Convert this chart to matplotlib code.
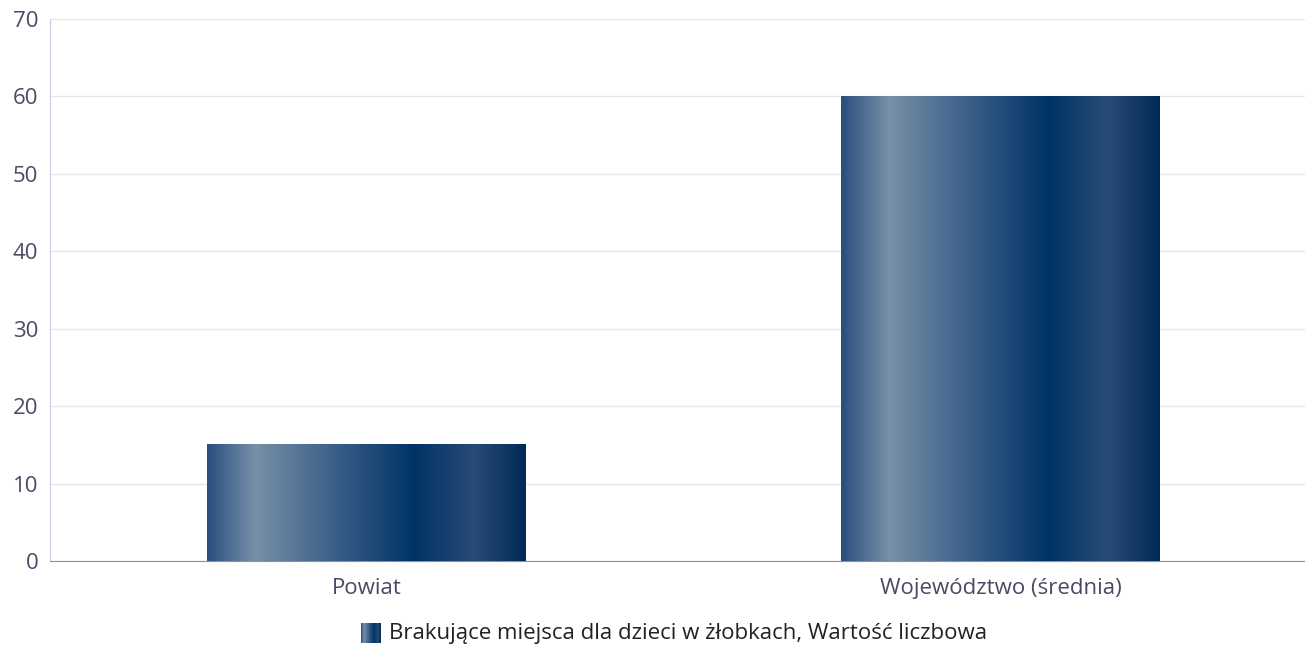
#!/usr/bin/env python3

import numpy as np
import matplotlib
matplotlib.use('Agg')
from matplotlib import pyplot as plt
from matplotlib.colors import LinearSegmentedColormap


categories = ['Powiat', 'Województwo (średnia)']
values = [15, 60]
series_name = 'Brakujące miejsca dla dzieci w żłobkach, Wartość liczbowa'
yticks = [0, 10, 20, 30, 40, 50, 60, 70]

plt.rcParams['font.family'] = ['Open Sans', 'DejaVu Sans']

# horizontal gradient used for the bars and the legend swatch
grad = LinearSegmentedColormap.from_list('bar', [
    (0.0, '#2a4f7e'),
    (0.15, '#7890a8'),
    (0.40, '#3a5f88'),
    (0.65, '#003366'),
    (0.84, '#284b74'),
    (1.0, '#002b57'),
])
ramp = np.linspace(0, 1, 256).reshape(1, -1)

W, H = 1305, 647
fs = 16
fig = plt.figure(figsize=(W / 100, H / 100), dpi=100)
ax = fig.add_axes([49.5 / W, 1 - 561 / H, (W - 49.5) / W, 542 / H])

x = np.arange(len(categories))
bars = ax.bar(x, values, width=0.503, color='none', zorder=2)
for b in bars:
    x0, y0 = b.get_x(), b.get_y()
    ax.imshow(ramp, cmap=grad, aspect='auto', zorder=3,
              extent=(x0, x0 + b.get_width(), y0, y0 + b.get_height()),
              interpolation='bicubic')

ax.set_xlim(-0.5, 1.48)
ax.set_ylim(0, 70)
ax.set_yticks(yticks)
ax.set_xticks(x)
ax.set_xticklabels(categories)
ax.grid(axis='y', color='#e6e6e6', linewidth=1, zorder=0)
ax.set_axisbelow(True)

for s in ['top', 'right']:
    ax.spines[s].set_visible(False)
ax.spines['left'].set_color('#c8cedf')
ax.spines['bottom'].set_color('#8e8eab')
ax.tick_params(axis='both', length=0, labelsize=fs, colors='#4a4a66')
ax.tick_params(axis='x', pad=12)
ax.tick_params(axis='y', pad=8)

# legend
sw = fig.add_axes([361 / W, 1 - 643 / H, 20 / W, 20 / H])
sw.imshow(ramp, cmap=grad, aspect='auto', interpolation='bicubic')
sw.axis('off')
fig.text(389 / W, 1 - 633 / H, series_name, fontsize=fs,
         color='#222222', va='center', ha='left')

fig.savefig('out.png', dpi=100)
